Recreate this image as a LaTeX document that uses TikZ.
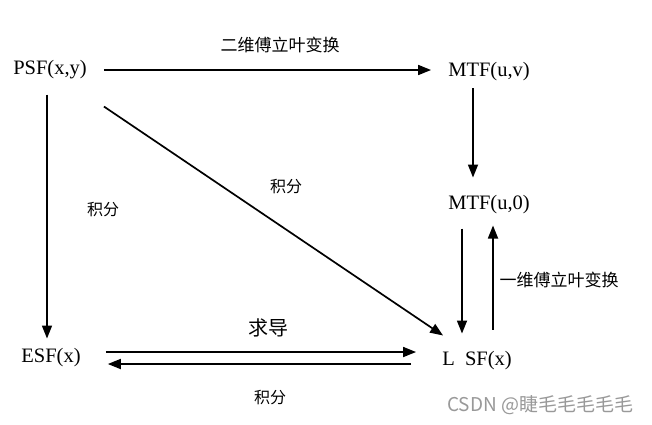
\documentclass[tikz,border=0pt]{standalone}
\usepackage{fontspec}
\setmainfont{Liberation Serif}
\newfontfamily\cjk{Noto Sans CJK SC}
\usetikzlibrary{arrows.meta,calc}
\begin{document}
\begin{tikzpicture}[x=1pt,y=-1pt,
  lat/.style={font=\fontsize{20.5}{20.5}\selectfont, inner sep=0pt},
  lbl/.style={font=\cjk\fontsize{17}{17}\selectfont, inner sep=0pt},
  small/.style={font=\cjk\fontsize{16}{16}\selectfont, inner sep=0pt},
  arr/.style={line width=1.7pt, -{Triangle[length=13pt,width=10pt]}}]
\useasboundingbox (0,0) rectangle (652,424);
\fill[white] (0,0) rectangle (652,424);
% nodes
\node[lat] (psf)   at (50,70)   {PSF(x,y)};
\node[lat] (mtfuv) at (489,72)  {MTF(u,v)};
\node[lat] (mtfu0) at (489,205) {MTF(u,0)};
\node[lat] (lsf)   at (477,361) {L\ \ SF(x)};
\node[lat] (esf)   at (51,358)  {ESF(x)};
% labels
\node[lbl] (l2d)  at (280,45)  {二维傅立叶变换};
\node[lbl] (l1d)  at (559,280) {一维傅立叶变换};
\node[small] (jfl) at (103,210) {积分};
\node[small] (jfd) at (286,187) {积分};
\node[font=\cjk\fontsize{20}{20}\selectfont, inner sep=0pt] (qd) at (268,328) {求导};
\node[small] (jfb) at (270,398) {积分};
\node[font=\cjk\fontsize{19}{19}\selectfont, text=black!40, inner sep=0pt, anchor=west] (wm) at (447,405) {CSDN @睫毛毛毛毛毛};
% connectors
\draw[arr] ($(psf.east)+(17,0)$) -- ($(psf.east -| mtfuv.west)+(-17,0)$);
\draw[arr] ($(psf.south)+(-3,15)$) -- ($(psf.south |- esf.north)+(-3,-10)$);
\draw[arr] ($(psf.south east)+(17,27)$) -- ($(lsf.north west)+(1,-16)$);
\draw[arr] ($(mtfuv.south)+(-16,7)$) -- ($(mtfuv.south |- mtfu0.north)+(-16,-18)$);
\draw[arr] ($(mtfu0.south)+(-27,14)$) -- ($(mtfu0.south |- lsf.north)+(-27,-18)$);
\draw[arr] ($(mtfu0.south |- lsf.north)+(4,-22)$) -- ($(mtfu0.south)+(4,11)$);
\draw[arr] ($(esf.east)+(25,-6)$) -- ($(lsf.west |- esf.east)+(-26,-6)$);
\draw[arr] ($(lsf.west |- esf.east)+(-31,6)$) -- ($(esf.east)+(27,6)$);
\end{tikzpicture}
\end{document}
